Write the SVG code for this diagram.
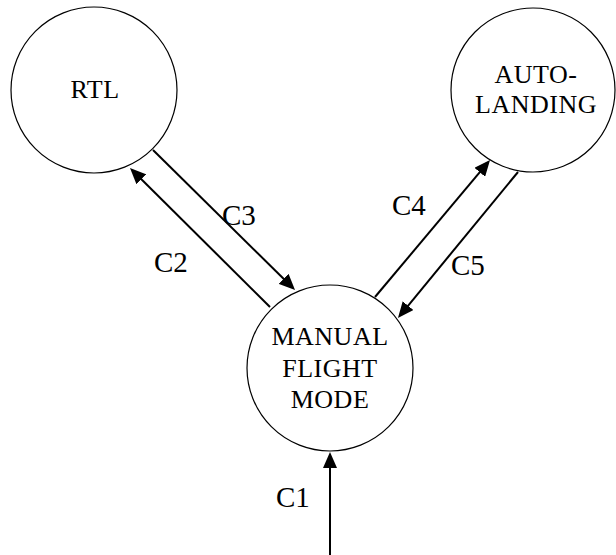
<svg xmlns="http://www.w3.org/2000/svg" width="616" height="555" viewBox="0 0 616 555">
<style>
.node{fill:#fff;stroke:#000;stroke-width:1.2}
.nt{font-family:"Liberation Serif","Times New Roman",serif;font-size:26px;fill:#000;text-anchor:middle;letter-spacing:0.5px}
.lbl{font-family:"Liberation Serif","Times New Roman",serif;font-size:29px;fill:#000}
.edge{fill:none;stroke:#000;stroke-width:2}
</style>
<defs>
<marker id="arr" viewBox="0 0 16 14" refX="6" refY="7" markerWidth="16" markerHeight="14" markerUnits="userSpaceOnUse" orient="auto">
<path d="M0,0 L16,7 L0,14 z" fill="#000"/>
</marker>
</defs>
<g id="rtl">
<circle class="node" cx="94" cy="90" r="83"/>
<text class="nt" x="95" y="98">RTL</text>
</g>
<g id="autolanding">
<circle class="node" cx="533" cy="90" r="82"/>
<text class="nt" x="536" y="83">AUTO-</text>
<text class="nt" x="536" y="113">LANDING</text>
</g>
<g id="manual">
<circle class="node" cx="330" cy="368" r="83"/>
<text class="nt" x="330" y="345">MANUAL</text>
<text class="nt" x="330" y="377">FLIGHT</text>
<text class="nt" x="330" y="408">MODE</text>
</g>
<g id="connectors">
<path class="edge" d="M330,555 L330,462" marker-end="url(#arr)"/>
<path class="edge" d="M270,307 L137.1,175" marker-end="url(#arr)"/>
<path class="edge" d="M153,150 L287.9,283" marker-end="url(#arr)"/>
<path class="edge" d="M375,297 L483.6,167.7" marker-end="url(#arr)"/>
<path class="edge" d="M518,172 L404.3,310.3" marker-end="url(#arr)"/>
<text class="lbl" x="276" y="507">C1</text>
<text class="lbl" x="154" y="272">C2</text>
<text class="lbl" x="222" y="225">C3</text>
<text class="lbl" x="392" y="215">C4</text>
<text class="lbl" x="451" y="275">C5</text>
</g>
</svg>
